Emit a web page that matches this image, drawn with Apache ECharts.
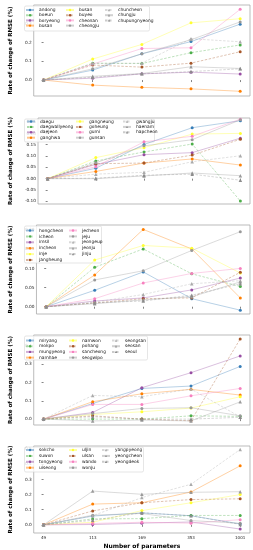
<!DOCTYPE html>
<html><head><meta charset="utf-8">
<script src="https://cdn.jsdelivr.net/npm/echarts@6/dist/echarts.min.js"></script>
<style>html,body{margin:0;padding:0;background:#fff}#c{width:253px;height:550px}</style>
</head><body><div id="c"></div>
<script>
const xCategories = ['49', '113', '169', '353', '1001'];

const panel1Names = ['andong','boeun','boryeong','busan','busan','buyeo','cheonan','cheongju','chuncheon','chungju','chupungnyeong'];
const panel1Values = [
  [0, 0.053, 0.140, 0.205, 0.298],
  [0, 0.090, 0.088, 0.146, 0.187],
  [0, 0.010, 0.033, 0.042, 0.032],
  [0, -0.027, -0.039, -0.047, -0.060],
  [0, 0.112, 0.190, 0.305, 0.327],
  [0, 0.080, 0.069, 0.090, 0.151],
  [0, 0.085, 0.168, 0.172, 0.377],
  [0, 0.060, 0.140, 0.215, 0.310],
  [0, 0.088, 0.090, 0.220, 0.204],
  [0, 0.020, 0.035, 0.071, 0.062],
  [0, 0.015, 0.033, 0.045, 0.060]
];
const panel2Names = ['daegu','daegwallyeong','daejeon','ganghwa','gangneung','goheung','gumi','gunsan','gwangju','haenam','hapcheon'];
const panel2Values = [
  [0, 0.046, 0.151, 0.225, 0.256],
  [0, 0.078, 0.118, 0.153, -0.099],
  [0, 0.063, 0.106, 0.115, 0.179],
  [0, 0.032, 0.069, 0.087, 0.060],
  [0, 0.093, 0.137, 0.197, 0.200],
  [0, 0.066, 0.069, 0.104, 0.174],
  [0, 0.053, 0.163, 0.187, 0.263],
  [0, 0.070, 0.145, 0.172, 0.260],
  [0, 0.020, 0.028, 0.075, 0.101],
  [0, 0.000, 0.012, 0.025, 0.013],
  [0, 0.002, 0.015, 0.020, -0.007]
];
const panel3Names = ['hongcheon','icheon','imsil','incheon','inje','jangheung','jecheon','jeju','jeongeup','jeonju','jinju'];
const panel3Values = [
  [0, 0.043, 0.091, 0.021, -0.009],
  [0, 0.103, 0.151, 0.086, 0.053],
  [0, 0.015, 0.023, 0.044, 0.075],
  [0, 0.083, 0.202, 0.151, 0.023],
  [0, 0.122, 0.160, 0.153, 0.088],
  [0, 0.010, 0.021, 0.023, 0.090],
  [0, 0.021, 0.062, 0.087, 0.100],
  [0, 0.070, 0.094, 0.147, 0.196],
  [0, 0.012, 0.032, 0.060, 0.068],
  [0, 0.008, 0.018, 0.026, 0.065],
  [0, 0.010, 0.015, 0.030, 0.060]
];
const panel4Names = ['miryang','mokpo','mungyeong','namhae','namwon','pohang','sancheong','seogwipo','seongsan','seosan','seoul'];
const panel4Values = [
  [0, 0.085, 0.167, 0.180, 0.287],
  [0, 0.000, 0.000, 0.018, 0.015],
  [0, 0.036, 0.171, 0.253, 0.344],
  [0, 0.095, 0.138, 0.162, 0.131],
  [0, 0.025, 0.040, 0.060, 0.122],
  [0, 0.018, 0.000, -0.009, 0.436],
  [0, 0.080, 0.080, 0.127, 0.167],
  [0, 0.030, 0.058, 0.062, 0.018],
  [0, 0.129, 0.122, 0.164, 0.012],
  [0, -0.010, -0.005, -0.010, 0.094],
  [0, 0.013, 0.000, 0.000, 0.010]
];
const panel5Names = ['sokcho','suwon','tongyeong','uiseong','uljin','ulsan','wando','wonju','yangpyeong','yeongcheon','yeongdeok'];
const panel5Values = [
  [0, 0.058, 0.079, 0.060, 0.006],
  [0, 0.039, 0.041, 0.062, 0.062],
  [0, 0.002, 0.011, 0.019, -0.028],
  [0, 0.137, 0.146, 0.217, 0.390],
  [0, 0.017, 0.094, 0.146, 0.200],
  [0, 0.092, 0.146, 0.167, 0.172],
  [0, 0.009, 0.017, 0.011, 0.034],
  [0, 0.064, 0.075, 0.028, 0.010],
  [0, 0.060, 0.180, 0.268, 0.498],
  [0, 0.223, 0.202, 0.215, 0.219],
  [0, 0.030, 0.080, 0.060, 0.003]
];
const panel1Ticks = [0, 0.1, 0.2, 0.3];
const panel2Ticks = [-0.10, -0.05, 0, 0.05, 0.10, 0.15, 0.20, 0.25];
const panel3Ticks = [0, 0.05, 0.10, 0.15, 0.20];
const panel4Ticks = [0, 0.1, 0.2, 0.3, 0.4];
const panel5Ticks = [0, 0.1, 0.2, 0.3, 0.4, 0.5];

const colors = ['#377eb8','#4daf4a','#984ea3','#ff7f00','#ffff33','#a65628','#f781bf','#999999','#aaaaaa','#9a9a9a','#8c8c8c'];
const dashes = ['solid',[2.5,1.5],'solid','solid','solid',[2.5,1.5],'solid','solid',[2.5,1.5],'solid',[2.5,1.5]];
const FONT = 'DejaVu Sans';

const panels = [
  {names: panel1Names, values: panel1Values, ticks: panel1Ticks, dec: 1, top: 5, height: 91, min: -0.085, max: 0.40,
   cols: [[0,4,25],[4,8,65],[8,11,104]], rowTop: 7.5, rowStep: 5.2, box: [24.5, 6, 125, 25]},
  {names: panel2Names, values: panel2Values, ticks: panel2Ticks, dec: 2, top: 118, height: 86, min: -0.112, max: 0.268,
   cols: [[0,4,26],[4,8,75],[8,11,122]], rowTop: 119, rowStep: 5.4, box: [24.5, 119, 130, 23]},
  {names: panel3Names, values: panel3Values, ticks: panel3Ticks, dec: 2, top: 225, height: 89, min: -0.019, max: 0.2135,
   cols: [[0,6,25],[6,11,68]], rowTop: 228, rowStep: 5.9, box: [24.5, 226, 77, 37]},
  {names: panel4Names, values: panel4Values, ticks: panel4Ticks, dec: 1, top: 335, height: 90, min: -0.032, max: 0.458,
   cols: [[0,4,25],[4,8,68],[8,11,111]], rowTop: 338, rowStep: 5.7, box: [24.5, 336, 123, 24]},
  {names: panel5Names, values: panel5Values, ticks: panel5Ticks, dec: 1, top: 446, height: 89, min: -0.054, max: 0.521,
   cols: [[0,4,25],[4,8,68],[8,11,101]], rowTop: 447.5, rowStep: 5.9, box: [24.5, 447, 119, 25]}
];

const grid = [], xAxis = [], yAxis = [], series = [], legend = [], graphic = [];
panels.forEach((p, pi) => {
  const last = pi === panels.length - 1;
  grid.push({left: 23, right: 3, top: p.top, height: p.height, show: true, borderColor: '#aaaaaa', borderWidth: 0.8, backgroundColor: 'transparent'});
  xAxis.push({
    type: 'value', gridIndex: pi, min: -0.2, max: 4.2,
    axisLine: {show: false}, splitLine: {show: false},
    axisTick: {show: true, customValues: [0,1,2,3,4], length: 2, lineStyle: {color: '#333', width: 0.6}},
    axisLabel: {show: last, customValues: [0,1,2,3,4], formatter: v => xCategories[Math.round(v)], fontSize: 4, margin: 3, color: '#222', fontFamily: FONT},
    name: last ? 'Number of parameters' : '', nameLocation: 'middle', nameGap: 10,
    nameTextStyle: {fontWeight: 'bold', fontSize: 6, fontFamily: FONT, color: '#000'}
  });
  yAxis.push({
    type: 'value', gridIndex: pi, min: p.min, max: p.max,
    axisLine: {show: false}, splitLine: {show: false},
    axisTick: {show: true, customValues: p.ticks, length: 2, lineStyle: {color: '#333', width: 0.6}},
    axisLabel: {customValues: p.ticks, formatter: v => v.toFixed(p.dec), fontSize: 4.3, margin: 2, color: '#222', fontFamily: FONT},
    name: 'Rate of change of RMSE (%)', nameLocation: 'middle', nameGap: 13,
    nameTextStyle: {fontWeight: 'bold', fontSize: 5.6, fontFamily: FONT, color: '#000'}
  });
  const ids = p.names.map((n, j) => 'p' + pi + '_' + j);
  p.values.forEach((vals, j) => {
    series.push({
      type: 'line', name: p.names[j] + (pi === 0 && j === 4 ? '\u200b' : ''), xAxisIndex: pi, yAxisIndex: pi,
      data: vals.map((v, i) => [i, v]),
      symbol: j >= 8 ? 'triangle' : 'circle', symbolSize: j >= 8 ? 3.5 : 3,
      itemStyle: {color: colors[j]},
      lineStyle: {width: 0.8, opacity: 0.45, type: dashes[j]},
      emphasis: {disabled: true}, animation: false, z: 2 + j
    });
  });
  graphic.push({type: 'rect', shape: {x: p.box[0], y: p.box[1], width: p.box[2], height: p.box[3], r: 1.5},
    style: {fill: 'rgba(255,255,255,0.8)', stroke: '#d5d5d5', lineWidth: 0.6}, z: 1, silent: true});
  p.cols.forEach(c => {
    legend.push({
      orient: 'vertical', left: c[2], top: p.rowTop, padding: 0,
      itemWidth: 8, itemHeight: 3, itemGap: p.rowStep - 5,
      data: p.names.slice(c[0], c[1]).map((n, k) => n + (pi === 0 && c[0] + k === 4 ? '\u200b' : '')),
      textStyle: {fontSize: 4.4, lineHeight: 5, fontFamily: FONT, color: '#111'},
      selectedMode: false, z: 5
    });
  });
});

const chart = echarts.init(document.getElementById('c'), null, {renderer: 'canvas'});
chart.setOption({animation: false, backgroundColor: '#fff', grid, xAxis, yAxis, series, legend, graphic});
</script>
</body></html>
